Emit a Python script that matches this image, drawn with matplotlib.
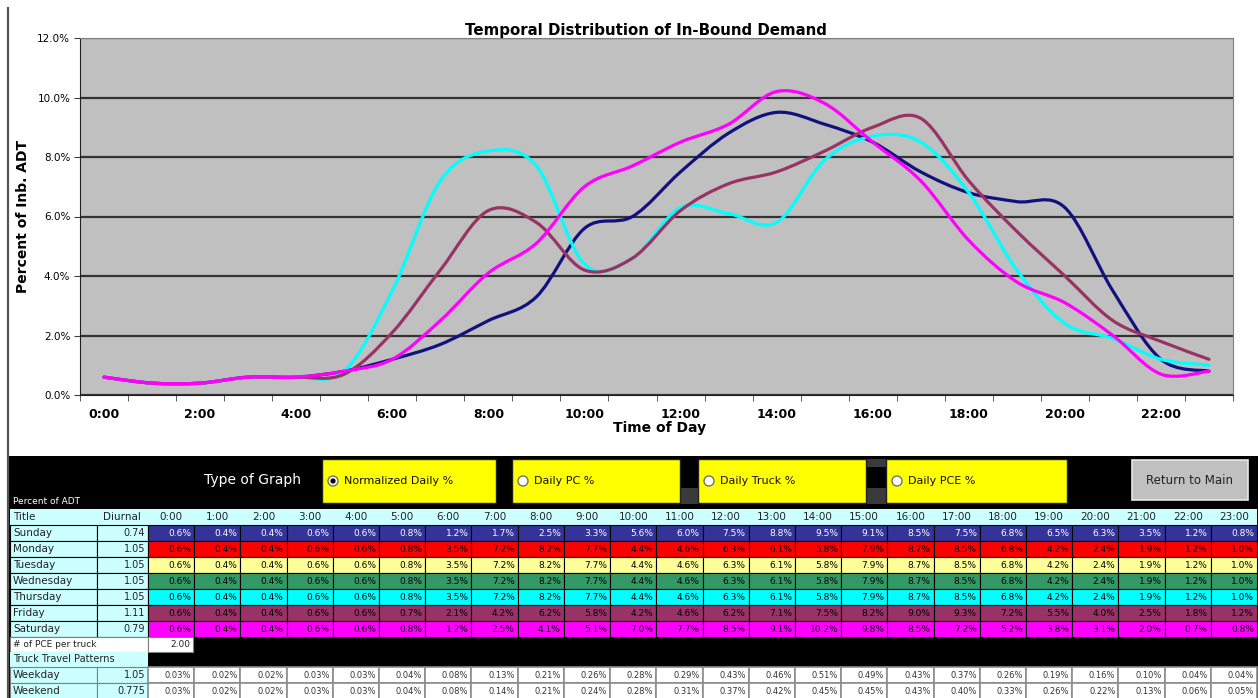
import numpy as np
import matplotlib
matplotlib.use("Agg")
import matplotlib.pyplot as plt
from matplotlib.path import Path
from matplotlib.patches import PathPatch, Rectangle, Circle

plt.rcParams['font.family'] = ['DejaVu Sans']

# hourly share of daily in-bound traffic (%)
hours = ['0:00', '1:00', '2:00', '3:00', '4:00', '5:00', '6:00', '7:00',
         '8:00', '9:00', '10:00', '11:00', '12:00', '13:00', '14:00', '15:00',
         '16:00', '17:00', '18:00', '19:00', '20:00', '21:00', '22:00', '23:00']
sunday = [0.6, 0.4, 0.4, 0.6, 0.6, 0.8, 1.2, 1.7, 2.5, 3.3, 5.6, 6.0,
          7.5, 8.8, 9.5, 9.1, 8.5, 7.5, 6.8, 6.5, 6.3, 3.5, 1.2, 0.8]
weekday = [0.6, 0.4, 0.4, 0.6, 0.6, 0.8, 3.5, 7.2, 8.2, 7.7, 4.4, 4.6,
           6.3, 6.1, 5.8, 7.9, 8.7, 8.5, 6.8, 4.2, 2.4, 1.9, 1.2, 1.0]
friday = [0.6, 0.4, 0.4, 0.6, 0.6, 0.7, 2.1, 4.2, 6.2, 5.8, 4.2, 4.6,
          6.2, 7.1, 7.5, 8.2, 9.0, 9.3, 7.2, 5.5, 4.0, 2.5, 1.8, 1.2]
saturday = [0.6, 0.4, 0.4, 0.6, 0.6, 0.8, 1.2, 2.5, 4.1, 5.1, 7.0, 7.7,
            8.5, 9.1, 10.2, 9.8, 8.5, 7.2, 5.2, 3.8, 3.1, 2.0, 0.7, 0.8]

day_names = ['Sunday', 'Monday', 'Tuesday', 'Wednesday', 'Thursday', 'Friday', 'Saturday']
day_factor = ['0.74', '1.05', '1.05', '1.05', '1.05', '1.11', '0.79']

pce_per_truck = '2.00'
truck_names = ['Weekday', 'Weekend']
truck_factor = ['1.05', '0.775']
truck_weekday = [0.03, 0.02, 0.02, 0.03, 0.03, 0.04, 0.08, 0.13, 0.21, 0.26, 0.28, 0.29,
                 0.43, 0.46, 0.51, 0.49, 0.43, 0.37, 0.26, 0.19, 0.16, 0.10, 0.04, 0.04]
truck_weekend = [0.03, 0.02, 0.02, 0.03, 0.03, 0.04, 0.08, 0.14, 0.21, 0.24, 0.28, 0.31,
                 0.37, 0.42, 0.45, 0.45, 0.43, 0.40, 0.33, 0.26, 0.22, 0.13, 0.06, 0.05]

graph_types = ['Normalized Daily %', 'Daily PC %', 'Daily Truck %', 'Daily PCE %']


def smooth_path(ys):
    # bezier curve through every hourly point (spreadsheet style smoothing)
    pts = np.column_stack([np.arange(len(ys)), ys]).astype(float)
    n = len(pts)
    verts = [pts[0]]
    codes = [Path.MOVETO]
    for i in range(n - 1):
        p0 = pts[max(i - 1, 0)]
        p1 = pts[i]
        p2 = pts[i + 1]
        p3 = pts[min(i + 2, n - 1)]
        verts += [p1 + (p2 - p0) / 6, p2 - (p3 - p1) / 6, p2]
        codes += [Path.CURVE4] * 3
    return Path(verts, codes)


W, H = 1258, 698
fig = plt.figure(figsize=(W / 100, H / 100), dpi=100)
fig.patch.set_facecolor('white')

# ---- chart ----
ax = fig.add_axes([80 / W, 1 - 395 / H, 1153 / W, 357 / H])
ax.set_facecolor('#C0C0C0')
ax.set_xlim(-0.5, 23.5)
ax.set_ylim(0, 12)
ax.set_axisbelow(True)
ax.yaxis.grid(True, color='#333333', lw=1.6)

series = [(sunday, '#12127f'), (weekday, '#00FFFF'),
          (friday, '#993366'), (saturday, '#FF00FF')]
for vals, col in series:
    ax.add_patch(PathPatch(smooth_path(vals), facecolor='none', edgecolor=col,
                           lw=2.3, capstyle='round', joinstyle='round'))

ax.set_xticks(range(0, 24, 2))
ax.set_xticklabels(hours[::2], fontsize=9, fontweight='bold')
ax.set_xticks(np.arange(-0.5, 24, 1), minor=True)
ax.tick_params(axis='x', which='major', length=0, pad=9)
ax.tick_params(axis='x', which='minor', length=4, color='#404040', direction='out')
ax.set_yticks(range(0, 13, 2))
ax.set_yticklabels(['%.1f%%' % v for v in range(0, 13, 2)], fontsize=7.5)
ax.tick_params(axis='y', length=4, pad=3, color='#404040')

for s in ['left', 'bottom']:
    ax.spines[s].set_color('#202020')
for s in ['top', 'right']:
    ax.spines[s].set_color('#808080')

ax.set_xlabel('Time of Day', fontsize=10, fontweight='bold')
ax.xaxis.set_label_coords(0.503, -0.072)
ax.set_ylabel('Percent of Inb. ADT', fontsize=10, fontweight='bold')
ax.yaxis.set_label_coords(-0.043, 0.5)
fig.text(646 / W, 1 - 30 / H, 'Temporal Distribution of In-Bound Demand',
         ha='center', va='center', fontsize=10.8, fontweight='bold')

# ---- worksheet block below the chart (pixel coordinates) ----
tab = fig.add_axes([0, 0, 1, 1])
tab.set_xlim(0, W)
tab.set_ylim(H, 0)
tab.axis('off')


def cell(x, y, w, h, fc, ec='black', lw=0.8):
    tab.add_patch(Rectangle((x, y), w, h, facecolor=fc, edgecolor=ec, lw=lw))


tab.plot([8, 8], [8, H], color='#555555', lw=1.6)
cell(8, 456, W - 8, H - 456, 'black', ec='none')

# option buttons
tab.text(13, 502, 'Percent of ADT', color='white', fontsize=6.5, va='center')
tab.text(252, 480, 'Type of Graph', color='white', fontsize=10, ha='center', va='center')
boxes = [(322, 496), (512, 680), (698, 866), (886, 1067)]
for dx, dy, dw, dh in [(680, 488, 18, 16), (866, 459, 20, 8), (866, 488, 20, 16)]:
    cell(dx, dy, dw, dh, '#3a3a3a', ec='none')
for i, ((x0, x1), label) in enumerate(zip(boxes, graph_types)):
    cell(x0, 459, x1 - x0, 44, '#FFFF00', ec='#202020', lw=1)
    tab.add_patch(Circle((x0 + 11, 481), 5, facecolor='white', edgecolor='#707070', lw=1))
    if i == 0:
        tab.add_patch(Circle((x0 + 11, 481), 2.6, facecolor='black'))
    tab.text(x0 + 22, 481, label, fontsize=8, va='center', color='#111111')
cell(1132, 460, 116, 40, '#C0C0C0', ec='#E8E8E8', lw=1.2)
tab.text(1190, 480, 'Return to Main', fontsize=8.5, ha='center', va='center', color='#222222')

# header row
cw = (1257 - 148) / 24
cell(10, 509, 1247, 16, '#CCFFFF', ec='none')
tab.text(13, 517, 'Title', fontsize=7.5, va='center', color='#222222')
tab.text(122, 517, 'Diurnal', fontsize=7.5, ha='center', va='center', color='#222222')
for j, lab in enumerate(hours):
    tab.text(148 + cw * (j + 0.5), 517, lab, fontsize=7.5, ha='center', va='center', color='#222222')

# daily rows
day_rows = [sunday, weekday, weekday, weekday, weekday, friday, saturday]
row_face = ['#333399', '#FF0000', '#FFFF99', '#339966', '#00FFFF', '#993366', '#FF00FF']
row_text = ['white', 'black', 'black', 'black', 'black', 'black', 'black']
for r, (name, fac, vals) in enumerate(zip(day_names, day_factor, day_rows)):
    y0 = 525 + 16 * r
    cell(10, y0, 87, 16, '#CCFFFF')
    cell(97, y0, 51, 16, '#CCFFFF')
    tab.text(13, y0 + 8, name, fontsize=7.5, va='center', color='#222222')
    tab.text(145, y0 + 8, fac, fontsize=7, ha='right', va='center', color='#222222')
    for j, v in enumerate(vals):
        x0 = 148 + cw * j
        cell(x0, y0, cw, 16, row_face[r])
        tab.text(x0 + cw - 3, y0 + 8, '%.1f%%' % v, fontsize=6.5, ha='right', va='center',
                 color=row_text[r])

# truck section
cell(10, 637, 138, 15, 'white', ec='#808080')
cell(148, 637, 45, 15, 'white', ec='#808080')
tab.text(13, 644.5, '# of PCE per truck', fontsize=6.5, va='center', color='#222222')
tab.text(190, 644.5, pce_per_truck, fontsize=6.5, ha='right', va='center', color='#222222')
cell(10, 652, 138, 15, '#CCFFFF', ec='none')
tab.text(13, 659.5, 'Truck Travel Patterns', fontsize=7, va='center', color='#222222')
for r, (name, fac, vals) in enumerate(zip(truck_names, truck_factor,
                                          [truck_weekday, truck_weekend])):
    y0 = 667 + 16 * r
    cell(10, y0, 87, 16, '#CCFFFF', ec='#808080')
    cell(97, y0, 51, 16, '#CCFFFF', ec='#808080')
    tab.text(13, y0 + 8, name, fontsize=7.5, va='center', color='#222222')
    tab.text(145, y0 + 8, fac, fontsize=7, ha='right', va='center', color='#222222')
    for j, v in enumerate(vals):
        x0 = 148 + cw * j
        cell(x0, y0, cw, 16, 'white', ec='#8c8c8c', lw=1.2)
        tab.text(x0 + cw - 3, y0 + 8, '%.2f%%' % v, fontsize=6, ha='right', va='center',
                 color='#333333')

fig.savefig('out.png', dpi=100)
